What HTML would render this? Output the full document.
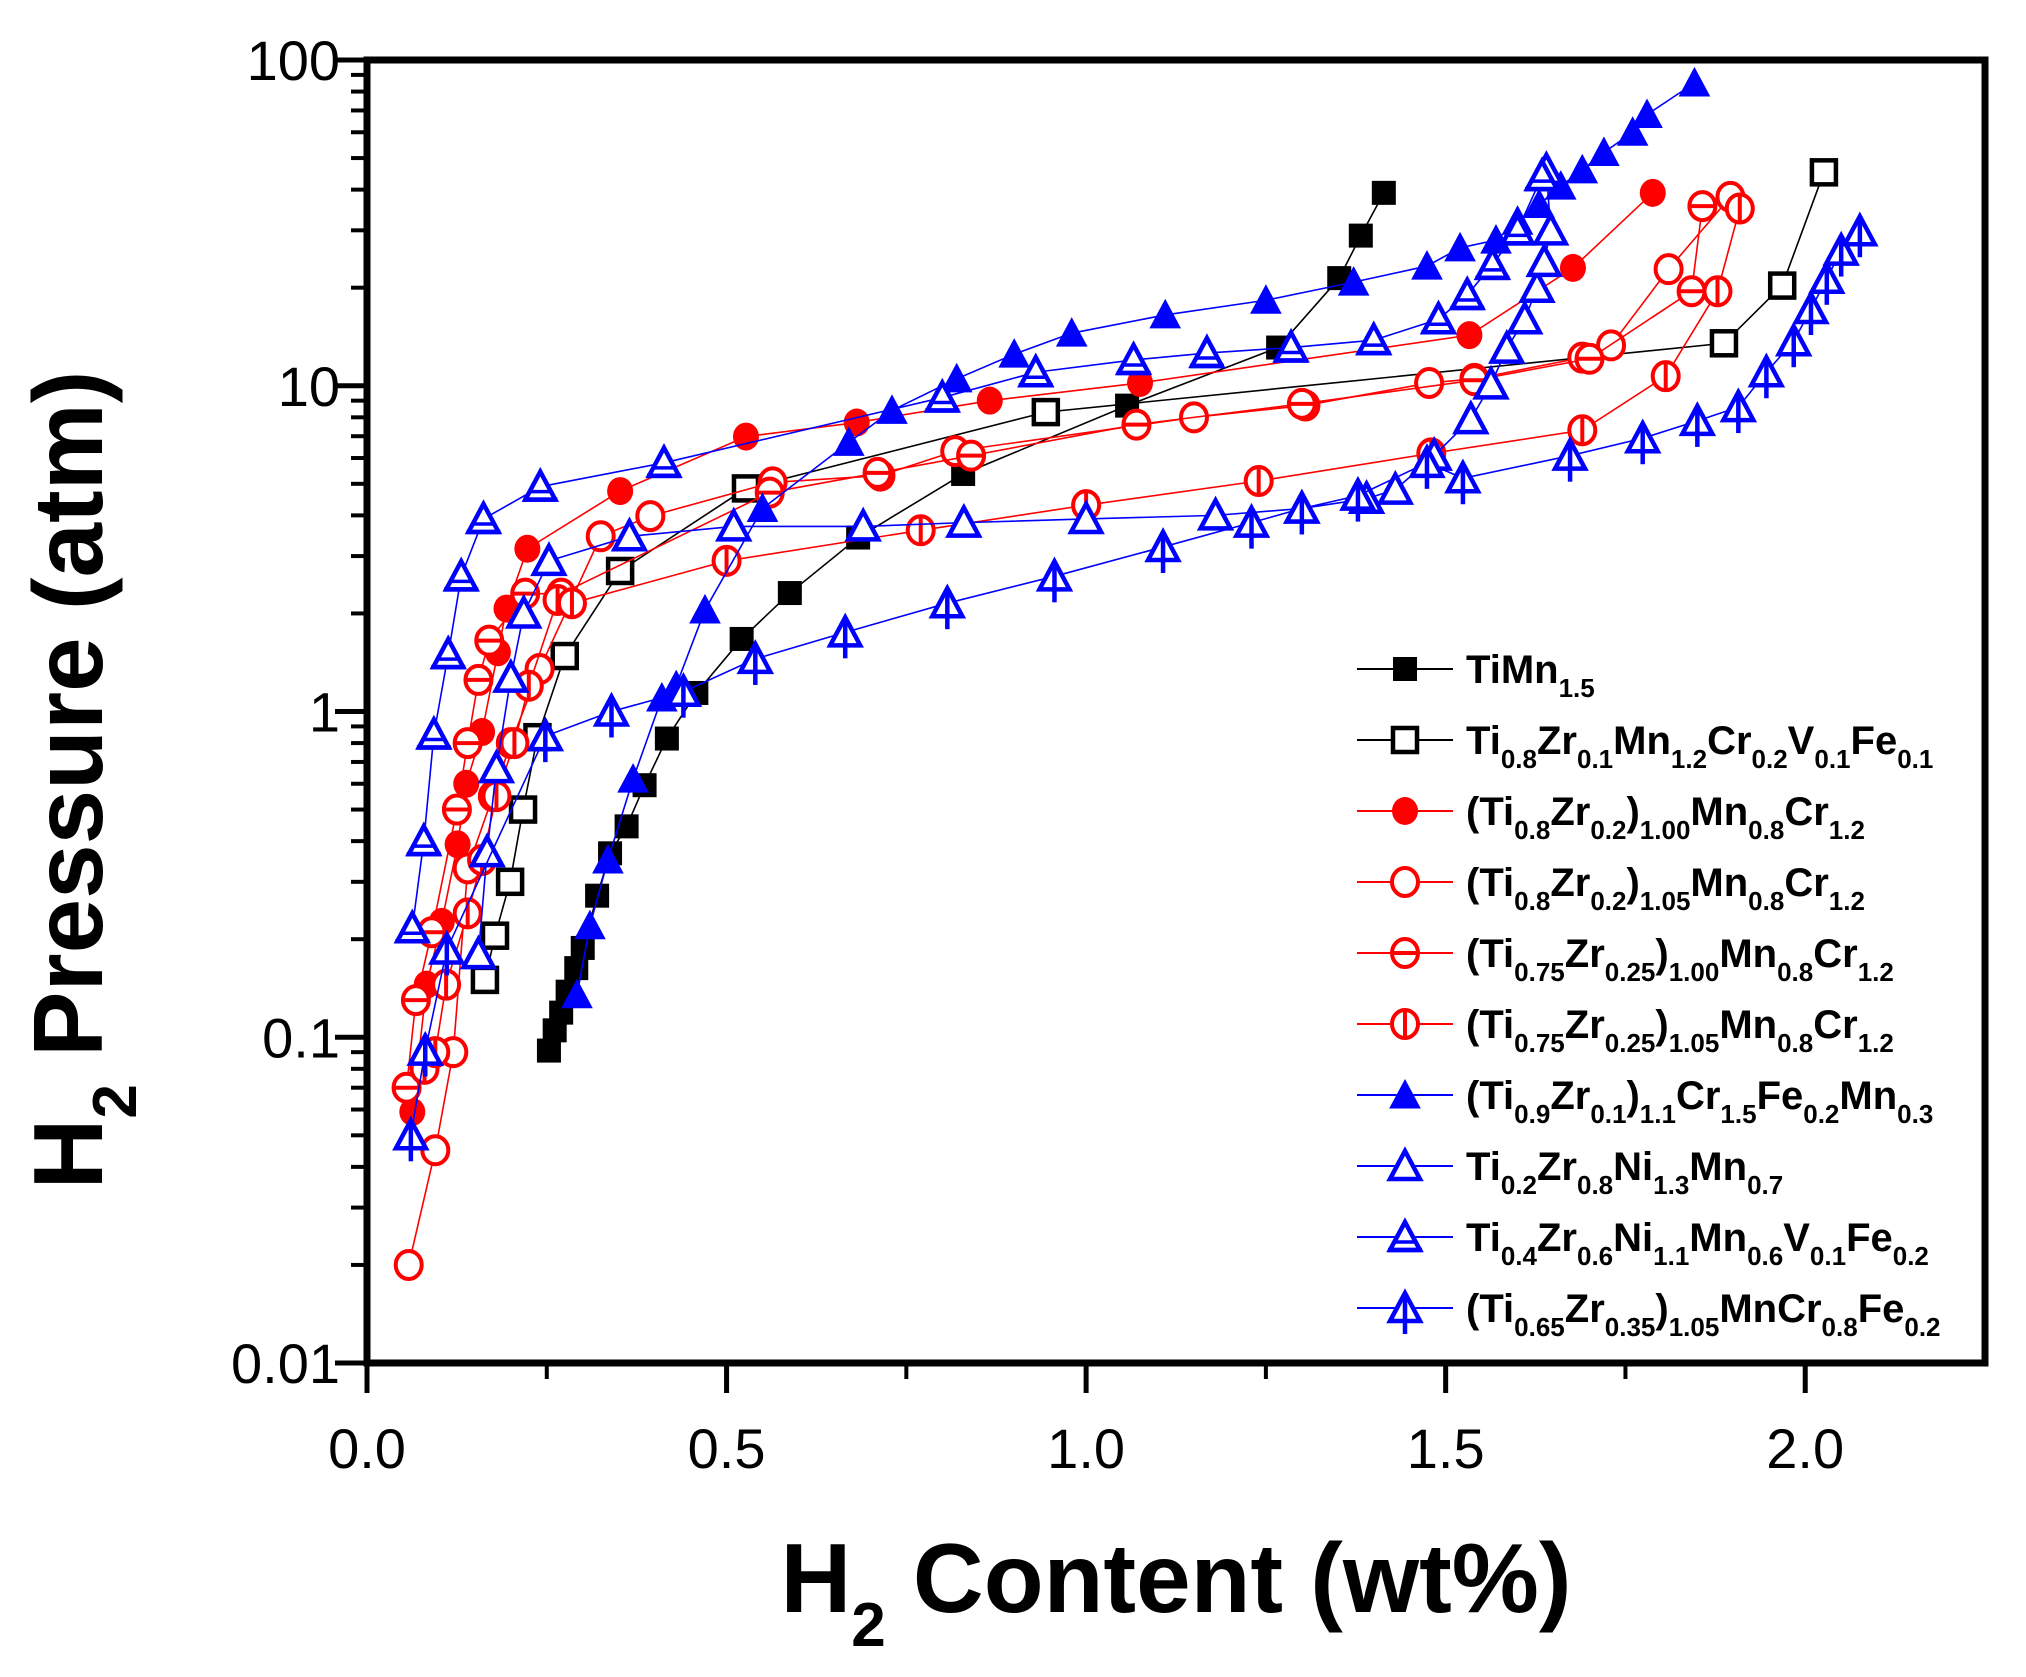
<!DOCTYPE html>
<html><head><meta charset="utf-8"><style>
html,body{margin:0;padding:0;background:#fff;}
svg{display:block;font-family:"Liberation Sans",Arial,sans-serif;}
</style></head><body>
<svg id="chart" width="2026" height="1677" viewBox="0 0 2026 1677" xmlns="http://www.w3.org/2000/svg">
<rect width="2026" height="1677" fill="#fff"/>
<g id="marks"></g>
<g id="axes"></g>
<g id="legend"></g>
<text x="1176" y="1612" font-size="98" font-weight="bold" text-anchor="middle">H<tspan font-size="62" dy="34">2</tspan><tspan dy="-34"> Content (wt%)</tspan></text>
<text transform="translate(102,780) rotate(-90)" font-size="98" font-weight="bold" text-anchor="middle">H<tspan font-size="62" dy="34">2</tspan><tspan dy="-34"> Pressure (atm)</tspan></text>
</svg>
<script>
// ---- data ----
const seriesNames = ["TiMn1.5","Ti0.8Zr0.1Mn1.2Cr0.2V0.1Fe0.1","(Ti0.8Zr0.2)1.00Mn0.8Cr1.2","(Ti0.8Zr0.2)1.05Mn0.8Cr1.2","(Ti0.75Zr0.25)1.00Mn0.8Cr1.2","(Ti0.75Zr0.25)1.05Mn0.8Cr1.2","(Ti0.9Zr0.1)1.1Cr1.5Fe0.2Mn0.3","Ti0.2Zr0.8Ni1.3Mn0.7","Ti0.4Zr0.6Ni1.1Mn0.6V0.1Fe0.2","(Ti0.65Zr0.35)1.05MnCr0.8Fe0.2"];
const s1x=[0.253,0.261,0.270,0.279,0.291,0.300,0.320,0.338,0.361,0.386,0.417,0.458,0.521,0.588,0.683,0.829,1.057,1.267,1.352,1.382,1.414];
const s1y=[0.091,0.105,0.119,0.138,0.163,0.188,0.272,0.367,0.444,0.594,0.826,1.14,1.67,2.31,3.42,5.36,8.69,13.1,21.4,28.9,39.1];
const s2x=[0.164,0.178,0.199,0.217,0.237,0.275,0.352,0.527,0.944,1.887,1.968,2.026];
const s2y=[0.150,0.205,0.300,0.50,0.834,1.48,2.70,4.84,8.30,13.5,20.3,45.2];
const s3x=[0.063,0.083,0.104,0.126,0.138,0.160,0.182,0.194,0.223,0.352,0.527,0.681,0.866,1.075,1.533,1.677,1.788];
const s3y=[0.059,0.145,0.226,0.391,0.600,0.865,1.52,2.07,3.16,4.75,6.98,7.71,9.00,10.2,14.3,23.0,39.1];
const s4x=[0.058,0.095,0.12,0.14,0.175,0.20,0.24,0.325,0.394,0.564,0.714,0.818,1.15,1.305,1.477,1.54,1.69,1.73,1.81,1.896];
const s4y=[0.020,0.045,0.09,0.33,0.55,0.8,1.35,3.45,3.98,5.05,5.3,6.3,8.0,8.7,10.2,10.5,12.2,13.3,22.8,38];
const s5x=[0.055,0.068,0.09,0.125,0.14,0.155,0.17,0.22,0.27,0.56,0.71,0.84,1.07,1.30,1.54,1.70,1.842,1.857];
const s5y=[0.07,0.13,0.21,0.5,0.8,1.25,1.65,2.3,2.3,4.7,5.4,6.1,7.6,8.8,10.4,12.1,19.5,35.6];
const s6x=[0.08,0.095,0.11,0.14,0.16,0.18,0.205,0.225,0.265,0.285,0.50,0.77,1.0,1.24,1.48,1.69,1.806,1.878,1.909];
const s6y=[0.08,0.09,0.145,0.24,0.35,0.55,0.8,1.2,2.2,2.15,2.9,3.6,4.3,5.1,6.2,7.3,10.7,19.5,35];
const s7x=[0.292,0.31,0.335,0.37,0.41,0.43,0.47,0.55,0.67,0.73,0.82,0.90,0.98,1.11,1.25,1.372,1.474,1.52,1.57,1.60,1.63,1.66,1.69,1.72,1.76,1.78,1.846];
const s7y=[0.135,0.22,0.35,0.62,1.1,1.2,2.05,4.2,6.7,8.4,10.5,12.5,14.5,16.5,18.3,20.8,23.3,26.5,28,32,36,41,46,52,60,68,85];
const s8x=[0.155,0.167,0.18,0.20,0.218,0.253,0.365,0.51,0.69,0.83,1.0,1.18,1.30,1.39,1.43,1.484,1.535,1.563,1.585,1.61,1.627,1.637,1.646,1.64];
const s8y=[0.18,0.37,0.67,1.27,2.0,2.9,3.45,3.7,3.7,3.8,3.9,4.0,4.2,4.5,4.8,6.1,7.9,10.1,13,16,20,24,30,46];
const s9x=[0.063,0.079,0.093,0.113,0.131,0.162,0.241,0.413,0.80,0.93,1.066,1.168,1.285,1.40,1.49,1.53,1.565,1.60,1.634];
const s9y=[0.216,0.40,0.85,1.5,2.6,3.9,4.9,5.8,9.2,11,12,12.6,13.1,13.8,16,19,23.5,30,44];
const s10x=[0.061,0.081,0.111,0.248,0.34,0.44,0.54,0.665,0.807,0.956,1.107,1.23,1.30,1.378,1.474,1.524,1.673,1.774,1.85,1.907,1.946,1.984,2.008,2.03,2.05,2.076];
const s10y=[0.05,0.091,0.186,0.84,1.0,1.15,1.45,1.75,2.15,2.6,3.2,3.8,4.2,4.6,5.8,5.2,6.1,6.9,7.8,8.6,11,13.7,17.2,21.3,26,29.8];
const xTicks=[0.0,0.5,1.0,1.5,2.0];
const xTickLabels=["0.0","0.5","1.0","1.5","2.0"];
const yTicks=[0.01,0.1,1,10,100];
const yTickLabels=["0.01","0.1","1","10","100"];

const NS="http://www.w3.org/2000/svg";
const L=367,R=1985,T=60,B=1363,XMAX=2.25;
function sx(v){return L+(v/XMAX)*(R-L);}
function sy(p){return B-(Math.log10(p)+2)/4*(B-T);}
function mk(tag,attrs,parent){const e=document.createElementNS(NS,tag);for(const k in attrs)e.setAttribute(k,attrs[k]);parent.appendChild(e);return e;}

const series=[
 {x:s1x,y:s1y,c:"#000",m:"fsq"},{x:s2x,y:s2y,c:"#000",m:"osq"},
 {x:s3x,y:s3y,c:"#ff0000",m:"fci"},{x:s4x,y:s4y,c:"#ff0000",m:"oci"},
 {x:s5x,y:s5y,c:"#ff0000",m:"ocih"},{x:s6x,y:s6y,c:"#ff0000",m:"ociv"},
 {x:s7x,y:s7y,c:"#0000ff",m:"ftri"},{x:s8x,y:s8y,c:"#0000ff",m:"otri"},
 {x:s9x,y:s9y,c:"#0000ff",m:"otrih"},{x:s10x,y:s10y,c:"#0000ff",m:"otriv"}];

function marker(g,type,cx,cy,c){
 const s=14;
 if(type==="fsq"||type==="osq"){mk("rect",{x:cx-s+2,y:cy-s+2,width:2*s-4,height:2*s-4,fill:type==="fsq"?c:"#fff",stroke:c,"stroke-width":type==="fsq"?0:4.5},g);}
 else if(type.startsWith("fci")||type.startsWith("oci")){
  mk("ellipse",{cx:cx,cy:cy,rx:13,ry:14,fill:type==="fci"?c:"#fff",stroke:c,"stroke-width":type==="fci"?0:4},g);
  if(type==="ocih")mk("line",{x1:cx-13,y1:cy,x2:cx+13,y2:cy,stroke:c,"stroke-width":4},g);
  if(type==="ociv")mk("line",{x1:cx,y1:cy-14,x2:cx,y2:cy+14,stroke:c,"stroke-width":4},g);
 } else {
  const h=15;const pts=`${cx},${cy-h} ${cx+h},${cy+h-2} ${cx-h},${cy+h-2}`;
  mk("polygon",{points:pts,fill:type==="ftri"?c:"#fff",stroke:c,"stroke-width":type==="ftri"?1:4.5,"stroke-linejoin":"miter"},g);
  if(type==="otrih"){mk("line",{x1:cx-17,y1:cy+h-2,x2:cx+17,y2:cy+h-2,stroke:c,"stroke-width":4.5},g);mk("line",{x1:cx-9,y1:cy+5,x2:cx+9,y2:cy+5,stroke:c,"stroke-width":3.5},g);}
  if(type==="otriv")mk("line",{x1:cx,y1:cy-h,x2:cx,y2:cy+h+11,stroke:c,"stroke-width":4.5},g);
 }
}

const marks=document.getElementById("marks");
series.forEach((s,i)=>{
 const g=mk("g",{},marks);
 
 
 const pts=s.x.map((v,j)=>sx(v)+","+sy(s.y[j])).join(" ");
 const pl=mk("polyline",{points:pts,fill:"none",stroke:s.c,"stroke-width":1.6},g);
 
 
 s.x.forEach((v,j)=>{
  const mg=mk("g",{},g);
  
  
  marker(mg,s.m,sx(v),sy(s.y[j]),s.c);
 });
});

// axes
const ax=document.getElementById("axes");
const frame=mk("rect",{x:L,y:T,width:R-L,height:B-T,fill:"none",stroke:"#000","stroke-width":7},ax);


xTicks.forEach((v,i)=>{
 mk("line",{x1:sx(v),y1:B,x2:sx(v),y2:B+30,stroke:"#000","stroke-width":5},ax);
 const t=mk("text",{x:sx(v),y:1468,"font-size":56,"text-anchor":"middle"},ax);
 t.textContent=xTickLabels[i];
 
 
});
for(let v=0.25;v<XMAX;v+=0.5){mk("line",{x1:sx(v),y1:B,x2:sx(v),y2:B+16,stroke:"#000","stroke-width":4},ax);}
yTicks.forEach((v,i)=>{
 mk("line",{x1:L-32,y1:sy(v),x2:L,y2:sy(v),stroke:"#000","stroke-width":5},ax);
 const t=mk("text",{x:340,y:sy(v)+20,"font-size":56,"text-anchor":"end"},ax);
 t.textContent=yTickLabels[i];
 
 
 if(i<yTicks.length-1){for(let k=2;k<=9;k++){const y=sy(v*k);mk("line",{x1:L-16,y1:y,x2:L,y2:y,stroke:"#000","stroke-width":4},ax);}}
});

// legend
const legendParts=[
 [["TiMn",""],["1.5","s"]],
 [["Ti",""],["0.8","s"],["Zr",""],["0.1","s"],["Mn",""],["1.2","s"],["Cr",""],["0.2","s"],["V",""],["0.1","s"],["Fe",""],["0.1","s"]],
 [["(Ti",""],["0.8","s"],["Zr",""],["0.2","s"],[")",""],["1.00","s"],["Mn",""],["0.8","s"],["Cr",""],["1.2","s"]],
 [["(Ti",""],["0.8","s"],["Zr",""],["0.2","s"],[")",""],["1.05","s"],["Mn",""],["0.8","s"],["Cr",""],["1.2","s"]],
 [["(Ti",""],["0.75","s"],["Zr",""],["0.25","s"],[")",""],["1.00","s"],["Mn",""],["0.8","s"],["Cr",""],["1.2","s"]],
 [["(Ti",""],["0.75","s"],["Zr",""],["0.25","s"],[")",""],["1.05","s"],["Mn",""],["0.8","s"],["Cr",""],["1.2","s"]],
 [["(Ti",""],["0.9","s"],["Zr",""],["0.1","s"],[")",""],["1.1","s"],["Cr",""],["1.5","s"],["Fe",""],["0.2","s"],["Mn",""],["0.3","s"]],
 [["Ti",""],["0.2","s"],["Zr",""],["0.8","s"],["Ni",""],["1.3","s"],["Mn",""],["0.7","s"]],
 [["Ti",""],["0.4","s"],["Zr",""],["0.6","s"],["Ni",""],["1.1","s"],["Mn",""],["0.6","s"],["V",""],["0.1","s"],["Fe",""],["0.2","s"]],
 [["(Ti",""],["0.65","s"],["Zr",""],["0.35","s"],[")",""],["1.05","s"],["MnCr",""],["0.8","s"],["Fe",""],["0.2","s"]]];
const lg=document.getElementById("legend");
series.forEach((s,i)=>{
 const y=669+i*71;
 const g=mk("g",{},lg);
 
 
 mk("line",{x1:1357,y1:y,x2:1453,y2:y,stroke:s.c,"stroke-width":2},g);
 marker(g,s.m,1405,y,s.c);
 const t=mk("text",{x:1466,y:y+14,"font-size":40,"font-weight":"bold"},g);
 legendParts[i].forEach(p=>{
  const ts=mk("tspan",{},t);
  if(p[1]==="s"){ts.setAttribute("font-size","26");ts.setAttribute("dy","14");}
  else if(t.childNodes.length>1){ts.setAttribute("dy","-14");}
  ts.textContent=p[0];
 });
});
</script>
</body></html>
